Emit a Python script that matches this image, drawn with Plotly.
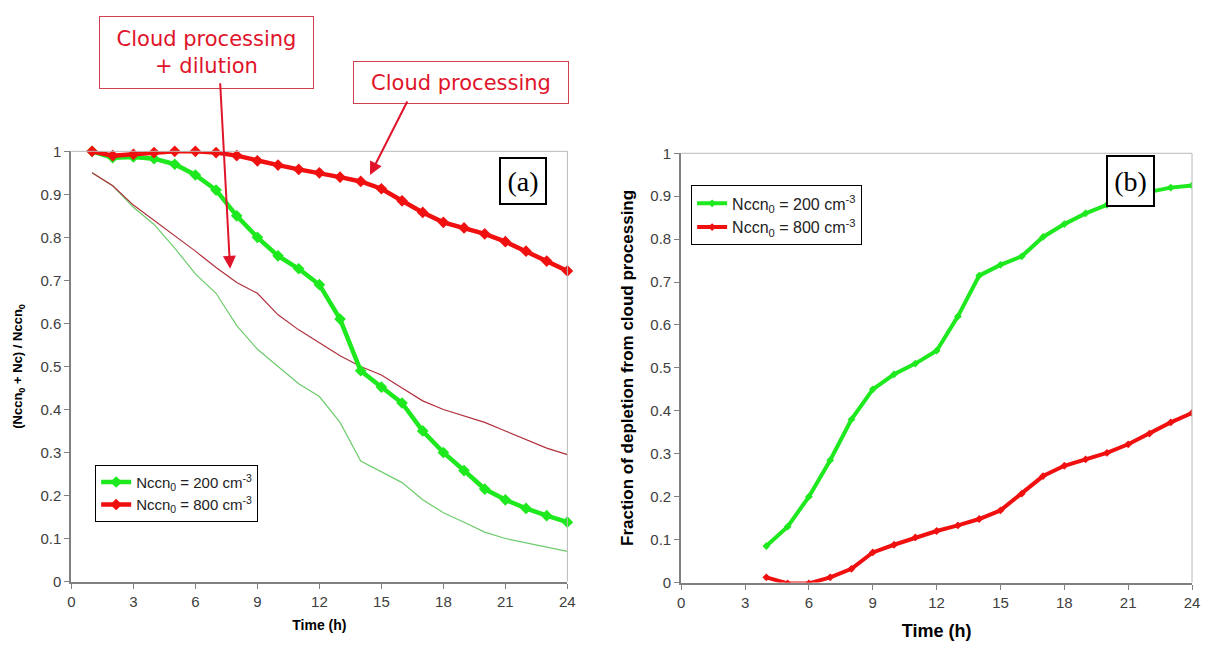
import plotly.graph_objects as go

# ---------------- data ----------------
hours = list(range(1, 25))
# panel (a): (Nccn0 + Nc) / Nccn0
cp_200 = [1.0, 0.985, 0.987, 0.983, 0.97, 0.945, 0.91, 0.85, 0.80, 0.757, 0.727, 0.69,
          0.61, 0.49, 0.452, 0.415, 0.35, 0.30, 0.258, 0.215, 0.19, 0.17, 0.153, 0.138]
cp_800 = [1.0, 0.99, 0.993, 0.997, 1.0, 1.0, 0.997, 0.99, 0.978, 0.968, 0.958, 0.95,
          0.94, 0.93, 0.913, 0.885, 0.858, 0.835, 0.822, 0.808, 0.79, 0.768, 0.745, 0.722]
dil_200 = [0.95, 0.92, 0.87, 0.83, 0.775, 0.715, 0.67, 0.595, 0.54, 0.50, 0.46, 0.43,
           0.37, 0.28, 0.255, 0.23, 0.19, 0.16, 0.138, 0.115, 0.10, 0.09, 0.08, 0.07]
dil_800 = [0.95, 0.92, 0.875, 0.84, 0.805, 0.768, 0.73, 0.695, 0.67, 0.62, 0.585, 0.555,
           0.525, 0.50, 0.48, 0.45, 0.42, 0.40, 0.385, 0.37, 0.35, 0.33, 0.31, 0.295]
# panel (b): fraction of depletion from cloud processing
hours_b = list(range(4, 25))
frac_200 = [0.085, 0.13, 0.20, 0.285, 0.38, 0.45, 0.485, 0.51, 0.54, 0.62, 0.715, 0.74,
            0.76, 0.805, 0.835, 0.86, 0.88, 0.895, 0.91, 0.92, 0.925]
frac_800 = [0.012, -0.002, -0.002, 0.012, 0.032, 0.07, 0.088, 0.105, 0.12, 0.133, 0.148,
            0.168, 0.207, 0.248, 0.272, 0.287, 0.302, 0.322, 0.347, 0.373, 0.395]

x_ticks = list(range(0, 25, 3))
y_ticks = [i / 10 for i in range(11)]
y_ticktext = ["0", "0.1", "0.2", "0.3", "0.4", "0.5", "0.6", "0.7", "0.8", "0.9", "1"]
label_200 = "Nccn<sub>0</sub> = 200 cm<sup>-3</sup>"
label_800 = "Nccn<sub>0</sub> = 800 cm<sup>-3</sup>"

GREEN = "#1ee81e"
RED = "#f01010"
THIN_GREEN = "#6ccc6c"
THIN_RED = "#b0303c"

# page body has an 8px margin: size the figure so it fits the window
OFF = 8
W, H = 1211 - 2 * OFF, 654 - 2 * OFF


def px(x):
    return (x - OFF) / W


def py(y):
    return 1 - (y - OFF) / H


fig = go.Figure()

# panel (a) thin lines (cloud processing + dilution)
fig.add_trace(go.Scatter(x=hours, y=dil_200, mode="lines", line=dict(color=THIN_GREEN, width=1.2),
                         showlegend=False, xaxis="x", yaxis="y", hoverinfo="skip"))
fig.add_trace(go.Scatter(x=hours, y=dil_800, mode="lines", line=dict(color=THIN_RED, width=1.2),
                         showlegend=False, xaxis="x", yaxis="y", hoverinfo="skip"))
# panel (a) thick lines (cloud processing)
fig.add_trace(go.Scatter(x=hours, y=cp_200, mode="lines+markers", name=label_200,
                         line=dict(color=GREEN, width=4.5),
                         marker=dict(symbol="diamond", size=9, color=GREEN),
                         xaxis="x", yaxis="y", legend="legend", cliponaxis=False))
fig.add_trace(go.Scatter(x=hours, y=cp_800, mode="lines+markers", name=label_800,
                         line=dict(color=RED, width=4.5),
                         marker=dict(symbol="diamond", size=9, color=RED),
                         xaxis="x", yaxis="y", legend="legend", cliponaxis=False))
# panel (b)
fig.add_trace(go.Scatter(x=hours_b, y=frac_200, mode="lines+markers", name=label_200,
                         line=dict(color=GREEN, width=4),
                         marker=dict(symbol="diamond", size=6, color=GREEN),
                         xaxis="x2", yaxis="y2", legend="legend2"))
fig.add_trace(go.Scatter(x=hours_b, y=frac_800, mode="lines+markers", name=label_800,
                         line=dict(color=RED, width=4),
                         marker=dict(symbol="diamond", size=6, color=RED),
                         xaxis="x2", yaxis="y2", legend="legend2"))

axis_common = dict(showgrid=False, zeroline=False, showline=True, linecolor="#808080",
                   linewidth=2, ticks="outside", ticklen=5, tickcolor="#808080",
                   tickfont=dict(family="Liberation Sans, Arial", size=15, color="#404040"))

fig.update_layout(
    width=W, height=H,
    margin=dict(l=0, r=0, t=0, b=0),
    paper_bgcolor="white", plot_bgcolor="white",
    font=dict(family="Liberation Sans, Arial", color="#000"),
    xaxis=dict(domain=[px(68), px(569)], range=[0, 24], tickvals=x_ticks,
               title=dict(text="<b>Time (h)</b>", font=dict(size=14), standoff=12),
               anchor="y", **axis_common),
    yaxis=dict(domain=[py(588), py(146)], range=[0, 1], tickvals=y_ticks,
               ticktext=y_ticktext,
               title=dict(text="<b>(Nccn<sub>0</sub> + Nc) / Nccn<sub>0</sub></b>",
                          font=dict(size=13), standoff=15),
               anchor="x", **axis_common),
    xaxis2=dict(domain=[px(684), px(1200)], range=[0, 24], tickvals=x_ticks,
                title=dict(text="<b>Time (h)</b>", font=dict(size=18), standoff=15),
                anchor="y2", **axis_common),
    yaxis2=dict(domain=[py(589), py(148)], range=[0, 1], tickvals=y_ticks,
                ticktext=y_ticktext,
                title=dict(text="<b>Fraction of depletion from cloud processing</b>",
                           font=dict(size=17), standoff=12),
                anchor="x2", **axis_common),
    legend=dict(x=px(92), y=py(468), xanchor="left", yanchor="top",
                bordercolor="#000", borderwidth=1, bgcolor="white",
                font=dict(size=15, color="#222"), itemwidth=30, tracegroupgap=2),
    legend2=dict(x=px(694), y=py(181), xanchor="left", yanchor="top",
                 bordercolor="#000", borderwidth=1, bgcolor="white",
                 font=dict(size=16, color="#222"), itemwidth=30, tracegroupgap=2),
)

# plot-area borders (top/right light grey)
for xa, ya in (("x", "y"), ("x2", "y2")):
    fig.add_shape(type="line", xref=f"{xa} domain", yref=f"{ya} domain", x0=0, x1=1, y0=1, y1=1,
                  line=dict(color="#b8b8b8", width=1))
    fig.add_shape(type="line", xref=f"{xa} domain", yref=f"{ya} domain", x0=1, x1=1, y0=0, y1=1,
                  line=dict(color="#b8b8b8", width=1))

ANN_RED = "#e0142a"
# text boxes
fig.add_annotation(xref="paper", yref="paper", x=px(204.5), y=py(44.5),
                   xanchor="center", yanchor="middle",
                   text="Cloud processing<br>+ dilution", showarrow=False,
                   font=dict(family="DejaVu Sans", size=21, color=ANN_RED),
                   bordercolor="#d04050", borderwidth=1, borderpad=4, bgcolor="white",
                   width=205, height=63)
fig.add_annotation(xref="paper", yref="paper", x=px(462), y=py(75.5),
                   xanchor="center", yanchor="middle",
                   text="Cloud processing", showarrow=False,
                   font=dict(family="DejaVu Sans", size=21, color=ANN_RED),
                   bordercolor="#d04050", borderwidth=1, borderpad=4, bgcolor="white",
                   width=206, height=33)
# arrows
fig.add_annotation(xref="x", yref="y", x=7.68, y=0.727, ax=-10, ay=-187, text="",
                   showarrow=True, arrowhead=2, arrowsize=1.3, arrowwidth=2, arrowcolor=ANN_RED)
fig.add_annotation(xref="x", yref="y", x=14.45, y=0.945, ax=38, ay=-75, text="",
                   showarrow=True, arrowhead=2, arrowsize=1.3, arrowwidth=2, arrowcolor=ANN_RED)
# panel labels
fig.add_annotation(xref="paper", yref="paper", x=px(524), y=py(177), text="(a)",
                   xanchor="center", yanchor="middle",
                   showarrow=False, font=dict(family="Liberation Serif, Times New Roman", size=28, color="#000"),
                   bordercolor="#000", borderwidth=2, borderpad=2, bgcolor="white", width=40, height=40)
fig.add_annotation(xref="paper", yref="paper", x=px(1137.5), y=py(177), text="(b)",
                   xanchor="center", yanchor="middle",
                   showarrow=False, font=dict(family="Liberation Serif, Times New Roman", size=28, color="#000"),
                   bordercolor="#000", borderwidth=2, borderpad=2, bgcolor="white", width=41, height=44)

fig.write_html("out.html")
